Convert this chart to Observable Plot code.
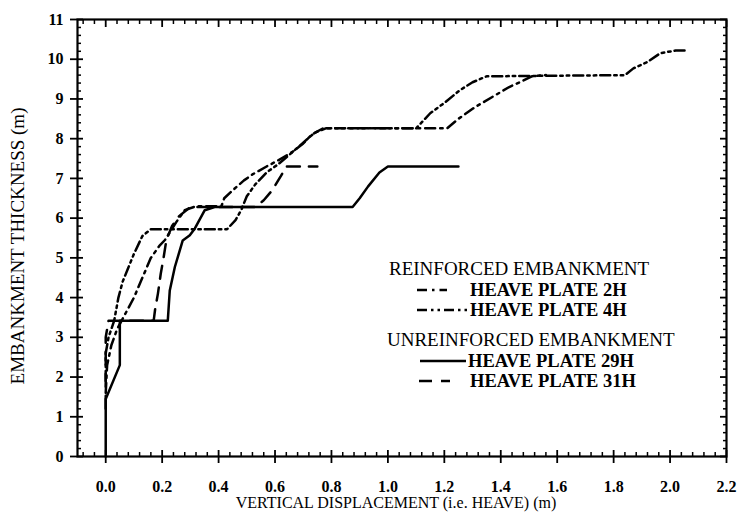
<!DOCTYPE html>
<html><head><meta charset="utf-8">
<script src="https://cdn.jsdelivr.net/npm/d3@7"></script>
<script src="https://cdn.jsdelivr.net/npm/@observablehq/plot@0.6"></script>
<style>
body{margin:0;background:#fff;}
#wrap{position:relative;width:750px;height:513px;}
#legend{position:absolute;left:0;top:0;width:750px;height:513px;pointer-events:none;font-family:"Liberation Serif","Times New Roman",serif;color:#000;}
#legend .row{position:absolute;white-space:nowrap;line-height:1;}
#legend svg{position:absolute;overflow:visible;}
</style></head><body><div id="wrap"></div>
<script>
// ---- tick values / labels ----
const xMajorTicks = [0, 0.2, 0.4, 0.6, 0.8, 1.0, 1.2, 1.4, 1.6, 1.8, 2.0, 2.2];
const xTickLabels = ["0.0","0.2","0.4","0.6","0.8","1.0","1.2","1.4","1.6","1.8","2.0","2.2"];
const yMajorTicks = [0,1,2,3,4,5,6,7,8,9,10,11];
const yTickLabels = ["0","1","2","3","4","5","6","7","8","9","10","11"];
const xMinorTicks = [-0.08,-0.04,0.04,0.08,0.12,0.16,0.24,0.28,0.32,0.36,0.44,0.48,0.52,0.56,0.64,0.68,0.72,0.76,0.84,0.88,0.92,0.96,1.04,1.08,1.12,1.16,1.24,1.28,1.32,1.36,1.44,1.48,1.52,1.56,1.64,1.68,1.72,1.76,1.84,1.88,1.92,1.96,2.04,2.08,2.12,2.16];
const yMinorTicks = [0.2,0.4,0.6,0.8,1.2,1.4,1.6,1.8,2.2,2.4,2.6,2.8,3.2,3.4,3.6,3.8,4.2,4.4,4.6,4.8,5.2,5.4,5.6,5.8,6.2,6.4,6.6,6.8,7.2,7.4,7.6,7.8,8.2,8.4,8.6,8.8,9.2,9.4,9.6,9.8,10.2,10.4,10.6,10.8];

// ---- series (heave in m, thickness in m) ----
const heave2H = [0, 0.005, 0.02, 0.04, 0.07, 0.1, 0.13, 0.16, 0.19, 0.21, 0.25, 0.28, 0.32, 0.41, 0.42, 0.45, 0.49, 0.52, 0.57, 0.61, 0.66, 0.70, 0.73, 0.77, 1.21, 1.25, 1.31, 1.37, 1.43, 1.47, 1.51, 1.56];
const thick2H = [1.6, 2.3, 2.8, 3.2, 3.6, 4.0, 4.5, 5.0, 5.3, 5.45, 5.9, 6.2, 6.3, 6.3, 6.5, 6.7, 6.95, 7.1, 7.3, 7.45, 7.66, 7.88, 8.1, 8.26, 8.26, 8.5, 8.8, 9.05, 9.3, 9.43, 9.57, 9.6];

const heave4H = [0, 0, 0.01, 0.03, 0.045, 0.06, 0.08, 0.1, 0.13, 0.16, 0.43, 0.46, 0.48, 0.5, 0.53, 0.57, 0.61, 0.66, 0.7, 0.74, 0.78, 1.1, 1.15, 1.2, 1.255, 1.3, 1.35, 1.84, 1.87, 1.92, 1.965, 2.02, 2.06];
const thick4H = [1.9, 2.6, 3.0, 3.42, 4.0, 4.4, 4.75, 5.1, 5.55, 5.72, 5.72, 5.95, 6.2, 6.55, 6.85, 7.15, 7.35, 7.65, 7.9, 8.15, 8.26, 8.26, 8.64, 8.9, 9.22, 9.42, 9.57, 9.6, 9.77, 9.93, 10.15, 10.22, 10.22];

const heave29H = [0, 0, 0.05, 0.05, 0.22, 0.227, 0.245, 0.273, 0.298, 0.316, 0.351, 0.386, 0.875, 0.9, 0.93, 0.97, 1.0, 1.25];
const thick29H = [0, 1.45, 2.3, 3.42, 3.42, 4.18, 4.77, 5.44, 5.57, 5.74, 6.2, 6.28, 6.28, 6.5, 6.8, 7.15, 7.3, 7.3];

const heave31H = [0, 0, 0.01, 0.17, 0.175, 0.185, 0.195, 0.205, 0.215, 0.235, 0.26, 0.3, 0.53, 0.56, 0.59, 0.62, 0.64, 0.75];
const thick31H = [1.2, 3.0, 3.42, 3.42, 3.7, 4.1, 4.6, 5.0, 5.45, 5.8, 6.05, 6.28, 6.28, 6.45, 6.7, 7.05, 7.3, 7.3];

const seriesNames = ["HEAVE PLATE 2H", "HEAVE PLATE 4H", "HEAVE PLATE 29H", "HEAVE PLATE 31H"];
const groupTitles = ["REINFORCED EMBANKMENT", "UNREINFORCED EMBANKMENT"];
const xTitle = "VERTICAL DISPLACEMENT (i.e. HEAVE) (m)";
const yTitle = "EMBANKMENT THICKNESS (m)";

// ---- build ----
const dashes = {
  "HEAVE PLATE 2H": "10,5,2.5,5",
  "HEAVE PLATE 4H": "10,4,2.5,4,2.5,4",
  "HEAVE PLATE 29H": null,
  "HEAVE PLATE 31H": "13,9"
};
function toRows(xs, ys){ return xs.map((x,i)=>({x, y: ys[i]})); }
const seriesData = [
  toRows(heave2H, thick2H),
  toRows(heave4H, thick4H),
  toRows(heave29H, thick29H),
  toRows(heave31H, thick31H)
];

const lineMarks = seriesData.map((rows, i) => Plot.line(rows, {
  x: "x", y: "y", stroke: "#000", strokeWidth: 2.5,
  strokeDasharray: dashes[seriesNames[i]], strokeLinejoin: "round"
}));

const blank = () => "";
const font = "Liberation Serif";
const plot = Plot.plot({
  width: 750, height: 513,
  marginLeft: 77, marginRight: 24, marginTop: 19, marginBottom: 57,
  x: {domain: [-0.1, 2.2], label: null},
  y: {domain: [0, 11], label: null},
  style: {fontFamily: font, fontSize: "15px", color: "#000", background: "#fff", overflow: "visible"},
  marks: [
    ...lineMarks,
    Plot.frame({stroke: "#000", strokeWidth: 2.2}),
    // bottom
    Plot.axisX({anchor: "bottom", ticks: xMajorTicks, tickSize: 7, tickPadding: 17, strokeWidth: 1.8,
      tickFormat: d => xTickLabels[xMajorTicks.indexOf(d)], fontWeight: "bold", fontSize: 16}),
    Plot.axisX({anchor: "bottom", ticks: xMajorTicks, tickSize: 6, dy: -6, strokeWidth: 1.8, tickFormat: blank}),
    Plot.axisX({anchor: "bottom", ticks: xMinorTicks, tickSize: 4, dy: -4, strokeWidth: 1.5, tickFormat: blank}),
    // top
    Plot.axisX({anchor: "top", ticks: xMajorTicks, tickSize: 7, dy: 7, strokeWidth: 1.8, tickFormat: blank}),
    Plot.axisX({anchor: "top", ticks: xMinorTicks, tickSize: 4, dy: 4, strokeWidth: 1.5, tickFormat: blank}),
    // left
    Plot.axisY({anchor: "left", ticks: yMajorTicks, tickSize: 7, tickPadding: 7, strokeWidth: 1.8,
      tickFormat: d => yTickLabels[yMajorTicks.indexOf(d)], fontWeight: "bold", fontSize: 16}),
    Plot.axisY({anchor: "left", ticks: yMajorTicks, tickSize: 6, dx: 6, strokeWidth: 1.8, tickFormat: blank}),
    Plot.axisY({anchor: "left", ticks: yMinorTicks, tickSize: 4, dx: 4, strokeWidth: 1.5, tickFormat: blank}),
    // right
    Plot.axisY({anchor: "right", ticks: yMajorTicks, tickSize: 7, dx: -7, strokeWidth: 1.8, tickFormat: blank}),
    Plot.axisY({anchor: "right", ticks: yMinorTicks, tickSize: 4, dx: -4, strokeWidth: 1.5, tickFormat: blank}),
    // titles
    Plot.text([xTitle], {text: d => d, frameAnchor: "bottom", dy: 46, dx: -6, fontSize: 16, fontFamily: font, lineAnchor: "middle"}),
    Plot.text([yTitle], {text: d => d, frameAnchor: "left", textAnchor: "middle", rotate: -90, dx: -60, dy: 8, fontSize: 19, fontFamily: font, letterSpacing: 1})
  ]
});
const wrap = document.getElementById("wrap");
wrap.appendChild(plot);

// ---- legend (HTML overlay) ----
const leg = document.createElement("div");
leg.id = "legend";
wrap.appendChild(leg);
const legendRows = [
  {kind: "title", text: groupTitles[0], left: 389, cy: 268},
  {kind: "item", name: seriesNames[0], left: 470, cy: 290, sw: [417, 447]},
  {kind: "item", name: seriesNames[1], left: 470, cy: 310, sw: [417, 468]},
  {kind: "title", text: groupTitles[1], left: 387, cy: 339},
  {kind: "item", name: seriesNames[2], left: 468, cy: 361, sw: [420, 466]},
  {kind: "item", name: seriesNames[3], left: 470, cy: 381, sw: [419, 450]}
];
const fs = 19;
legendRows.forEach(r => {
  const d = document.createElement("div");
  d.className = "row";
  d.style.left = r.left + "px";
  d.style.top = (r.cy - fs * 0.5) + "px";
  d.style.fontSize = (r.kind === "title" ? fs : 18.5) + "px";
  d.style.fontWeight = r.kind === "title" ? "normal" : "bold";
  d.textContent = r.kind === "title" ? r.text : r.name;
  leg.appendChild(d);
  if (r.kind === "item") {
    const s = document.createElementNS("http://www.w3.org/2000/svg", "svg");
    s.setAttribute("width", 750); s.setAttribute("height", 513);
    s.style.left = "0px"; s.style.top = "0px";
    const ln = document.createElementNS("http://www.w3.org/2000/svg", "line");
    ln.setAttribute("x1", r.sw[0]); ln.setAttribute("x2", r.sw[1]);
    ln.setAttribute("y1", r.cy); ln.setAttribute("y2", r.cy);
    ln.setAttribute("stroke", "#000"); ln.setAttribute("stroke-width", 2.4);
    const da = dashes[r.name];
    if (da) ln.setAttribute("stroke-dasharray", da);
    s.appendChild(ln);
    leg.appendChild(s);
  }
});
</script></body></html>
